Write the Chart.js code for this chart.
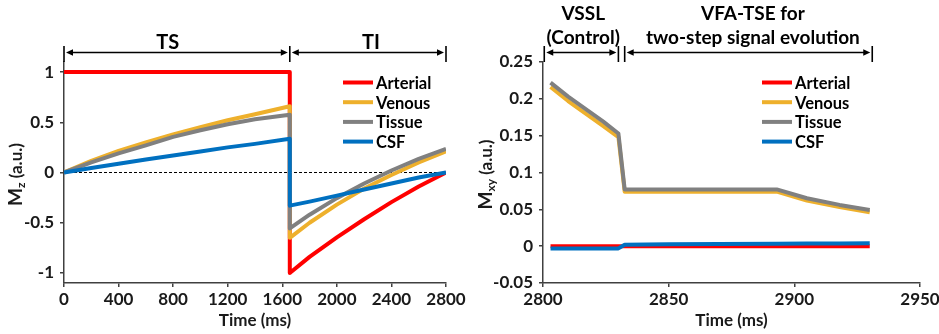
<!DOCTYPE html>
<html>
<head>
<meta charset="utf-8">
<script src="https://cdn.jsdelivr.net/npm/chart.js@4"></script>
<style>
  body { margin: 0; background: #fff; }
  .box { position: absolute; top: 0; height: 334px; }
</style>
</head>
<body>
<div class="box" style="left:0;width:470px"><canvas id="mz"></canvas></div>
<div class="box" style="left:470px;width:469px"><canvas id="mxy"></canvas></div>
<script>
const seriesNames = ['Arterial', 'Venous', 'Tissue', 'CSF']
const seriesColors = ['#FF0000', '#EEB02C', '#808080', '#0070C0']

// left: Mz during TS (label) and TI (inversion)
const tsTime = [0, 200, 400, 600, 800, 1000, 1200, 1400, 1655]
const tsArterial = [1, 1, 1, 1, 1, 1, 1, 1, 1]
const tsVenous = [0, 0.115, 0.215, 0.30, 0.38, 0.45, 0.52, 0.58, 0.66]
const tsTissue = [0, 0.10, 0.19, 0.27, 0.355, 0.42, 0.48, 0.53, 0.575]
const tsCSF = [0, 0.045, 0.088, 0.13, 0.17, 0.21, 0.25, 0.285, 0.335]

const tiTime = [1655, 1800, 2000, 2200, 2400, 2600, 2800]
const tiArterial = [-1, -0.84, -0.645, -0.465, -0.295, -0.14, 0]
const tiVenous = [-0.65, -0.50, -0.32, -0.16, -0.025, 0.10, 0.21]
const tiTissue = [-0.557, -0.42, -0.255, -0.11, 0.02, 0.135, 0.235]
const tiCSF = [-0.33, -0.29, -0.23, -0.17, -0.11, -0.05, 0]

const mzTicksX = [0, 400, 800, 1200, 1600, 2000, 2400, 2800]
const mzTicksY = [-1, -0.5, 0, 0.5, 1]
const mzBars = [0, 1655, 2800]
const mzSpans = [[0, 1655], [1655, 2800]]
const mzPhaseLabels = [['TS'], ['TI']]
const mzLabelAt = [760, 2250]

// right: Mxy during VSSL and VFA-TSE readout
const rdTime = [2803, 2810, 2817, 2824, 2830, 2832.5, 2850, 2870, 2893, 2905, 2918, 2930]
const rdArterial = [0, 0, 0, 0, 0, 0, 0, 0, 0, 0, 0, 0]
const rdVenous = [0.216, 0.197, 0.180, 0.163, 0.148, 0.074, 0.074, 0.074, 0.074, 0.062, 0.053, 0.046]
const rdTissue = [0.222, 0.203, 0.186, 0.169, 0.153, 0.077, 0.077, 0.077, 0.077, 0.065, 0.056, 0.049]
const rdCSF = [-0.003, -0.003, -0.003, -0.003, -0.003, 0.002, 0.0025, 0.003, 0.0033, 0.0035, 0.0037, 0.0038]

const mxyTicksX = [2800, 2850, 2900, 2950]
const mxyTicksY = [-0.05, 0, 0.05, 0.1, 0.15, 0.2, 0.25]
const mxyBars = [2800.5, 2830, 2832.5, 2931]
const mxySpans = [[2800.5, 2830], [2832.5, 2931]]
const mxyPhaseLabels = [['VSSL', '(Control)'], ['VFA-TSE for', 'two-step signal evolution']]
const mxyLabelAt = [2816, 2883.5]

// ------------------------------------------------------------
const FONT = 'Lato, "Open Sans", sans-serif'
const AXIS = '#404040'
const TEXT = '#1a1a1a'
Chart.defaults.font.family = FONT

const pts = (xs, ys) => xs.map((x, i) => ({ x: x, y: ys[i] }))

const makeSets = (groups) => groups.map((data, i) => ({
  label: seriesNames[i],
  data: data,
  borderColor: seriesColors[i],
  backgroundColor: seriesColors[i],
  borderWidth: 4,
  pointRadius: 0,
  tension: 0,
  borderJoinStyle: 'round',
  fill: false,
  order: 4 - i   // CSF drawn on top
}))

const axisX = (min, max, ticks) => ({
  type: 'linear', min: min, max: max,
  afterBuildTicks: s => { s.ticks = ticks.map(v => ({ value: v })) },
  afterFit: s => { s.height = 51; s.paddingLeft = 0; s.paddingRight = 0 },
  border: { color: AXIS, width: 1.5 },
  grid: { drawOnChartArea: false, color: AXIS, lineWidth: 1.5, tickLength: 4 },
  ticks: { color: TEXT, font: { size: 17, weight: 'bold' }, padding: 2, maxRotation: 0, autoSkip: false, callback: v => String(v) },
  title: { display: true, text: 'Time (ms)', color: TEXT, font: { size: 17, weight: 'bold' }, padding: { top: 0, bottom: 3 } }
})

const axisY = (min, max, ticks, width) => ({
  type: 'linear', min: min, max: max,
  afterBuildTicks: s => { s.ticks = ticks.map(v => ({ value: v })) },
  afterFit: s => { s.width = width; s.paddingTop = 0; s.paddingBottom = 0 },
  border: { color: AXIS, width: 1.5 },
  grid: { drawOnChartArea: false, color: AXIS, lineWidth: 1.5, tickLength: 4 },
  ticks: { color: TEXT, font: { size: 17, weight: 'bold' }, padding: 6, autoSkip: false, callback: v => String(v) }
})

// brackets, legend and y title with subscript
const decor = {
  id: 'decor',
  afterDraw(chart, args, o) {
    const ctx = chart.ctx
    const x = chart.scales.x
    ctx.save()
    ctx.strokeStyle = '#000'
    ctx.fillStyle = '#000'
    ctx.lineWidth = 1.6
    o.bars.forEach(v => {
      const px = x.getPixelForValue(v)
      ctx.beginPath(); ctx.moveTo(px, 46); ctx.lineTo(px, 62); ctx.stroke()
    })
    o.spans.forEach(([a, b]) => {
      const x1 = x.getPixelForValue(a) + 2, x2 = x.getPixelForValue(b) - 2, y = 52.5
      ctx.beginPath(); ctx.moveTo(x1 + 4, y); ctx.lineTo(x2 - 4, y); ctx.stroke()
      ;[[x1, 1], [x2, -1]].forEach(([tip, d]) => {
        ctx.beginPath(); ctx.moveTo(tip, y); ctx.lineTo(tip + d * 7, y - 3.2); ctx.lineTo(tip + d * 7, y + 3.2); ctx.closePath(); ctx.fill()
      })
    })
    ctx.textAlign = 'center'
    ctx.textBaseline = 'middle'
    ctx.font = 'bold ' + o.labelSize + 'px ' + FONT
    o.labels.forEach((lines, i) => {
      const px = x.getPixelForValue(o.labelAt[i])
      lines.forEach((s, k) => ctx.fillText(s, px, o.labelY[k]))
    })

    // legend
    ctx.textAlign = 'left'
    ctx.font = 'bold 16.5px ' + FONT
    chart.data.datasets.slice(0, 4).forEach((ds, i) => {
      const y = 82.5 + i * 19.7
      ctx.strokeStyle = ds.borderColor
      ctx.lineWidth = 4
      ctx.beginPath(); ctx.moveTo(o.legendX, y); ctx.lineTo(o.legendX + 30, y); ctx.stroke()
      ctx.fillStyle = '#000'
      ctx.fillText(ds.label, o.legendX + 33, y + 1)
    })

    // y title
    ctx.translate(o.titleX, 174.5)
    ctx.rotate(-Math.PI / 2)
    ctx.fillStyle = TEXT
    ctx.textBaseline = 'alphabetic'
    const big = 'bold 19px ' + FONT, small = 'bold 12px ' + FONT, mid = 'bold 17px ' + FONT
    ctx.font = big; const w1 = ctx.measureText('M').width
    ctx.font = small; const w2 = ctx.measureText(o.sub).width
    ctx.font = mid; const w3 = ctx.measureText(' (a.u.)').width
    let p = -(w1 + w2 + w3) / 2
    ctx.font = big; ctx.fillText('M', p, 0); p += w1
    ctx.font = small; ctx.fillText(o.sub, p, 3); p += w2
    ctx.font = mid; ctx.fillText(' (a.u.)', p, 0)
    ctx.restore()
  }
}

const mzSets = makeSets([
  pts(tsTime, tsArterial).concat(pts(tiTime, tiArterial)),
  pts(tsTime, tsVenous).concat(pts(tiTime, tiVenous)),
  pts(tsTime, tsTissue).concat(pts(tiTime, tiTissue)),
  pts(tsTime, tsCSF).concat(pts(tiTime, tiCSF))
])
mzSets.push({
  label: 'zero', data: [{ x: 0, y: 0 }, { x: 2800, y: 0 }],
  borderColor: '#000', borderWidth: 1, borderDash: [3, 2], pointRadius: 0, order: 9
})

new Chart(document.getElementById('mz'), {
  type: 'line',
  data: { datasets: mzSets },
  options: {
    responsive: true, maintainAspectRatio: false, animation: false,
    layout: { padding: { top: 62, right: 24, left: 0, bottom: 0 } },
    plugins: {
      legend: { display: false }, tooltip: { enabled: false },
      decor: { bars: mzBars, spans: mzSpans, labels: mzPhaseLabels, labelAt: mzLabelAt, labelY: [43], labelSize: 20, legendX: 343, titleX: 22, sub: 'z' }
    },
    scales: { x: axisX(0, 2800, mzTicksX), y: axisY(-1.1, 1.1, mzTicksY, 64) }
  },
  plugins: [decor]
})

const mxySets = makeSets([
  pts(rdTime, rdArterial),
  pts(rdTime, rdVenous),
  pts(rdTime, rdTissue),
  pts(rdTime, rdCSF)
])

new Chart(document.getElementById('mxy'), {
  type: 'line',
  data: { datasets: mxySets },
  options: {
    responsive: true, maintainAspectRatio: false, animation: false,
    layout: { padding: { top: 62, right: 19, left: 0, bottom: 0 } },
    plugins: {
      legend: { display: false }, tooltip: { enabled: false },
      decor: { bars: mxyBars, spans: mxySpans, labels: mxyPhaseLabels, labelAt: mxyLabelAt, labelY: [14, 38], labelSize: 19, legendX: 292, titleX: 22, sub: 'xy' }
    },
    scales: { x: axisX(2800, 2950, mxyTicksX), y: axisY(-0.05, 0.25, mxyTicksY, 73) }
  },
  plugins: [decor]
})
</script>
</body>
</html>
